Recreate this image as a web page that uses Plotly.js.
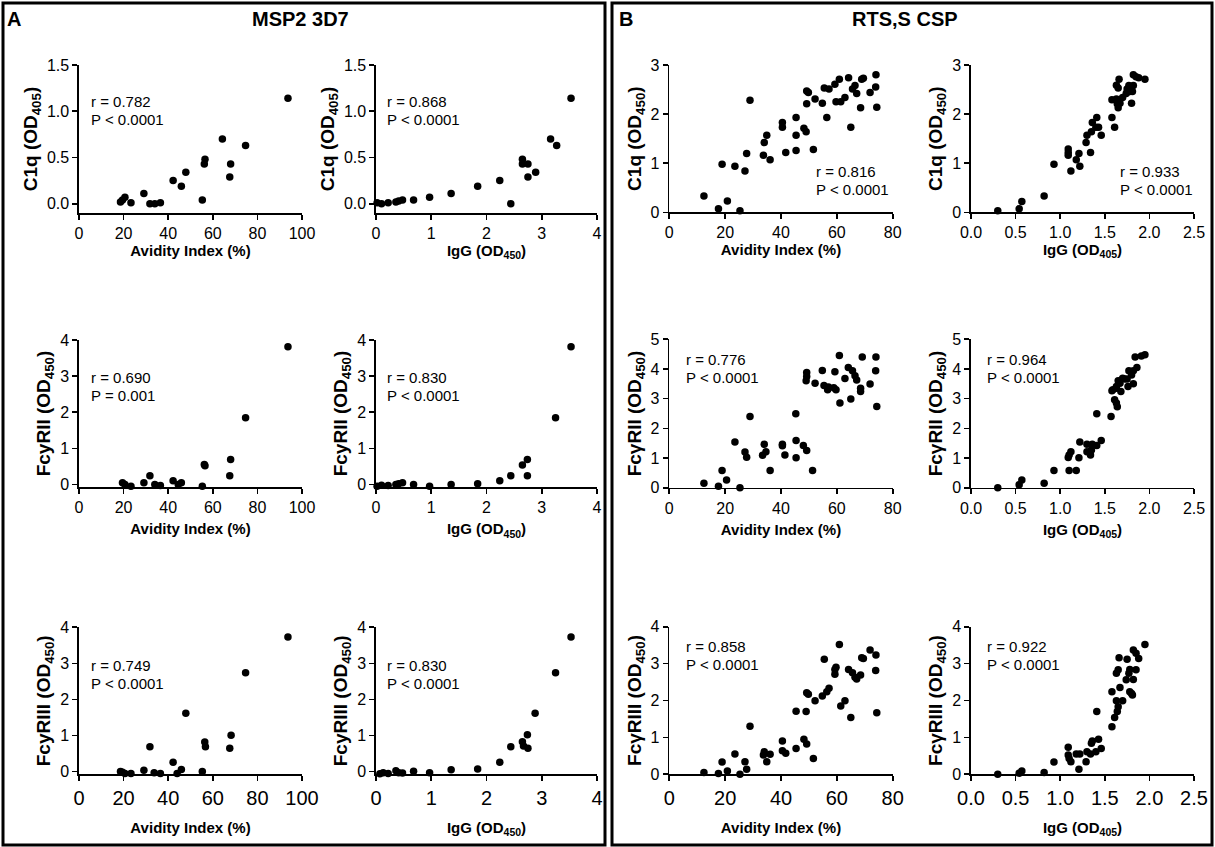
<!DOCTYPE html>
<html>
<head>
<meta charset="utf-8">
<script src="https://cdn.plot.ly/plotly-3.0.1.min.js"></script>
<style>html,body{margin:0;padding:0;background:#fff;}#chart{width:1215px;height:847px;}</style>
</head>
<body>
<div id="chart"></div>
<script>
// ---------------- DATA ----------------
// Panel A: MSP2 3D7
const msp2C1qAvidityX = [93.7,64.3,74.7,56.5,56.2,68.0,67.6,47.9,42.2,45.9,55.3,29.1,20.6,19.5,18.6,23.3,31.8,34.0,36.5];
const msp2C1qAvidityY = [1.14,0.70,0.63,0.48,0.43,0.43,0.29,0.34,0.25,0.19,0.04,0.11,0.07,0.04,0.02,0.01,0.00,0.00,0.01];
const msp2C1qIgGX = [3.53,3.16,3.27,2.65,2.65,2.75,2.75,2.89,2.24,1.84,2.44,1.36,0.97,0.68,0.48,0.41,0.36,0.22,0.10,0.02];
const msp2C1qIgGY = [1.14,0.70,0.63,0.48,0.43,0.43,0.29,0.34,0.25,0.19,0.00,0.11,0.07,0.04,0.04,0.03,0.02,0.01,0.00,0.01];

const msp2RIIAvidityX = [93.7,74.7,68.0,67.6,56.5,56.2,31.8,19.5,20.6,23.3,29.1,34.0,36.5,42.2,44.5,45.9,55.3];
const msp2RIIAvidityY = [3.81,1.85,0.69,0.24,0.52,0.55,0.24,0.05,0.00,-0.05,0.05,0.00,-0.03,0.10,0.00,0.05,-0.05];
const msp2RIIIgGX = [3.53,3.25,2.74,2.65,2.74,2.44,2.24,1.84,1.36,0.97,0.68,0.48,0.41,0.36,0.22,0.10,0.02];
const msp2RIIIgGY = [3.81,1.85,0.69,0.54,0.24,0.24,0.10,0.02,0.00,-0.05,0.00,0.05,0.02,0.00,-0.03,-0.02,-0.05];

const msp2RIIIAvidityX = [93.7,74.7,47.9,68.2,67.6,56.4,56.7,31.8,42.2,45.9,44.0,55.3,29.1,33.7,36.5,23.3,20.6,18.6,19.5];
const msp2RIIIAvidityY = [3.73,2.74,1.62,1.01,0.65,0.82,0.69,0.69,0.26,0.06,-0.05,0.00,0.04,-0.03,-0.05,-0.05,-0.05,0.00,-0.02];
const msp2RIIIIgGX = [3.53,3.25,2.88,2.74,2.65,2.67,2.75,2.44,2.24,1.84,1.36,0.97,0.68,0.48,0.41,0.36,0.22,0.13,0.07];
const msp2RIIIIgGY = [3.73,2.74,1.62,1.02,0.83,0.71,0.65,0.69,0.26,0.07,0.05,-0.03,0.01,-0.04,-0.03,0.02,-0.05,-0.03,-0.06];

// Panel B: RTS,S CSP
const cspC1qAvidityX = [12.4,17.6,18.9,20.8,23.5,25.3,27.1,27.7,28.9,33.7,34.0,34.9,36.1,40.5,40.5,41.7,45.4,45.4,45.4,48.2,49.0,49.2,49.2,49.8,51.6,52.2,54.8,55.5,56.4,57.2,59.3,59.7,60.9,61.4,62.9,64.2,65.0,65.6,66.5,67.1,68.5,68.9,69.5,71.9,73.9,74.0,74.3];
const cspC1qAvidityY = [0.33,0.07,0.98,0.23,0.94,0.03,0.84,1.20,2.28,1.16,1.42,1.57,1.07,1.83,1.73,1.22,1.93,1.57,1.26,1.71,1.64,2.21,2.47,2.44,1.28,2.31,2.22,2.53,1.93,2.51,2.61,2.25,2.71,2.25,2.34,2.74,1.73,2.51,2.58,2.42,2.13,2.71,2.73,2.44,2.55,2.80,2.14];
const cspC1qIgGX = [0.30,0.54,0.57,0.82,0.93,1.09,1.09,1.09,1.12,1.18,1.21,1.22,1.29,1.30,1.34,1.35,1.36,1.40,1.41,1.43,1.46,1.58,1.58,1.61,1.63,1.63,1.64,1.65,1.66,1.65,1.67,1.70,1.74,1.75,1.77,1.78,1.80,1.81,1.82,1.82,1.85,1.88,1.95];
const cspC1qIgGY = [0.03,0.07,0.22,0.33,0.98,1.29,1.22,1.16,0.84,1.07,1.20,0.94,1.42,1.57,1.22,1.64,1.83,1.73,1.93,1.73,1.57,1.93,2.29,1.73,2.31,2.59,2.21,2.53,2.71,2.13,2.22,2.34,2.42,2.51,2.58,2.46,2.22,2.46,2.58,2.80,2.76,2.74,2.71];

const cspRIIAvidityX = [12.4,17.6,25.3,60.9,69.1,74.0,73.9,74.3,71.9,68.5,68.5,67.1,66.5,65.6,64.1,62.9,65.0,61.1,59.3,59.7,58.9,57.0,56.7,55.4,54.8,52.2,49.2,49.2,49.0,51.3,49.2,48.0,45.4,45.3,45.4,41.4,40.5,40.5,36.1,34.6,34.0,33.4,28.9,27.7,27.1,23.5,18.9,20.5];
const cspRIIAvidityY = [0.15,0.05,0.00,4.45,4.40,4.40,3.94,2.74,3.49,3.35,3.24,3.63,3.77,3.94,4.05,3.68,2.99,2.85,3.91,3.30,3.37,3.39,3.30,3.44,3.95,3.52,3.88,3.75,3.60,0.58,1.25,1.42,1.59,2.49,1.01,1.10,1.46,1.41,0.58,1.21,1.46,1.09,2.40,1.03,1.20,1.54,0.58,0.26];
const cspRIIIgGX = [0.30,0.54,0.82,1.95,1.91,1.84,1.86,1.82,1.80,1.77,1.75,1.82,1.76,1.72,1.70,1.67,1.65,1.63,1.68,1.63,1.59,1.58,1.61,1.63,1.64,1.57,1.41,1.46,1.41,1.36,1.30,1.22,1.35,1.30,1.34,1.21,1.12,1.10,1.09,1.18,1.10,0.93,0.57];
const cspRIIIgGY = [0.00,0.10,0.15,4.48,4.44,4.40,4.05,3.94,3.80,3.94,3.66,3.50,3.41,3.66,3.69,3.52,3.60,3.41,3.24,3.35,3.30,3.27,2.96,2.85,2.73,2.40,2.49,1.59,1.42,1.46,1.46,1.54,1.27,1.21,1.10,1.01,1.21,1.10,1.02,0.58,0.58,0.58,0.26];

const cspRIIIAvidityX = [12.4,17.6,18.9,20.8,23.5,25.3,27.1,27.7,28.9,33.7,34.0,34.9,36.1,40.5,40.5,41.7,45.4,45.4,48.2,49.2,49.0,49.2,49.8,51.6,52.2,54.8,55.5,56.4,57.2,59.3,59.3,59.7,60.9,61.4,62.9,64.2,65.0,65.6,66.5,67.1,68.5,68.9,69.5,71.9,73.9,74.0,74.3];
const cspRIIIAvidityY = [0.05,0.02,0.33,0.09,0.55,0.00,0.34,0.14,1.30,0.52,0.61,0.34,0.54,0.90,0.64,0.57,1.71,0.70,0.95,0.82,1.70,2.21,2.17,0.43,1.99,2.12,3.12,2.24,2.33,2.71,2.84,2.90,3.52,1.85,1.99,2.84,1.54,2.75,2.63,2.58,2.69,3.16,3.14,3.37,2.81,3.23,1.67];
const cspRIIIIgGX = [0.30,0.54,0.57,0.82,0.93,1.09,1.09,1.10,1.12,1.18,1.21,1.22,1.29,1.30,1.34,1.35,1.36,1.40,1.41,1.43,1.46,1.58,1.58,1.61,1.63,1.63,1.64,1.65,1.66,1.65,1.67,1.70,1.74,1.75,1.77,1.78,1.80,1.81,1.82,1.82,1.85,1.88,1.85,1.95,1.78];
const cspRIIIIgGY = [0.00,0.03,0.09,0.05,0.33,0.73,0.52,0.43,0.34,0.55,0.14,0.55,0.34,0.61,0.55,0.84,0.90,0.61,1.70,0.95,0.70,1.29,2.24,1.54,1.99,2.74,1.70,2.83,3.16,1.83,2.35,1.99,2.56,3.12,2.74,2.84,2.19,2.15,2.57,3.37,3.28,3.14,2.83,3.52,2.24];

// Correlation statistics text
const statR = ['0.782','0.868','0.816','0.933','0.690','0.830','0.776','0.964','0.749','0.830','0.858','0.922'];
const statP = ['P &lt; 0.0001','P &lt; 0.0001','P &lt; 0.0001','P &lt; 0.0001','P = 0.001','P &lt; 0.0001','P &lt; 0.0001','P &lt; 0.0001','P &lt; 0.0001','P &lt; 0.0001','P &lt; 0.0001','P &lt; 0.0001'];

// Axis labels
const xLabels = ['Avidity Index (%)','IgG (OD<sub>450</sub>)','Avidity Index (%)','IgG (OD<sub>405</sub>)'];
const yLabels = [
  ['C1q (OD<sub>405</sub>)','C1q (OD<sub>405</sub>)','C1q (OD<sub>450</sub>)','C1q (OD<sub>450</sub>)'],
  ['FcyRII (OD<sub>450</sub>)','FcyRII (OD<sub>450</sub>)','FcγRII (OD<sub>450</sub>)','FcγRII (OD<sub>450</sub>)'],
  ['FcyRIII (OD<sub>450</sub>)','FcyRIII (OD<sub>450</sub>)','FcγRIII (OD<sub>450</sub>)','FcγRIII (OD<sub>450</sub>)']
];
const panelTitles = ['MSP2 3D7','RTS,S CSP'];
const panelLetters = ['A','B'];

// ---------------- LAYOUT ----------------
const W = 1215, H = 847;
const FONT = 'Liberation Sans, Arial, sans-serif';
const series = [
  [[msp2C1qAvidityX,msp2C1qAvidityY],[msp2C1qIgGX,msp2C1qIgGY],[cspC1qAvidityX,cspC1qAvidityY],[cspC1qIgGX,cspC1qIgGY]],
  [[msp2RIIAvidityX,msp2RIIAvidityY],[msp2RIIIgGX,msp2RIIIgGY],[cspRIIAvidityX,cspRIIAvidityY],[cspRIIIgGX,cspRIIIgGY]],
  [[msp2RIIIAvidityX,msp2RIIIAvidityY],[msp2RIIIIgGX,msp2RIIIIgGY],[cspRIIIAvidityX,cspRIIIAvidityY],[cspRIIIIgGX,cspRIIIIgGY]]
];
const colPx = [[79,302],[376,597],[669.3,892.7],[971,1194]];
const rowPx = [[[65,213],[65,213],[65,212.3],[65,212.3]],
               [[340,487],[340,487],[339.3,487.7],[339.3,487.7]],
               [[627.3,774.3],[627.3,774.3],[626.7,774.3],[626.7,774.3]]];
const xRanges = [[0,100],[0,4],[0,80],[0,2.5]];
const xDtick = [20,1,20,0.5];
const xFmt = ['','','','.1f'];
const yRanges = [[[-0.1,1.5],[-0.1,1.5],[0,3],[0,3]],
                 [[-0.07,4],[-0.07,4],[0,5],[0,5]],
                 [[-0.075,4],[-0.075,4],[0,4],[0,4]]];
const yDtick = [[0.5,0.5,1,1],[1,1,1,1],[1,1,1,1]];
const yFmt = [['.1f','.1f','',''],['','','',''],['','','','']];
const xTickSize = [16, 16, 20];
const xTitleStandoff = [0, 9, 14];
// stat text: [left px, r-line centre px]
const statPx = [
  [[89,101.7],[385,101.7],[814,171.7],[1118,171.7]],
  [[89,377],[385,377],[684,359],[985,359.3]],
  [[89,665],[385,665],[684,646],[985,646.7]]
];
const STAT_GAP = 18;

const traces = [];
const layout = {
  width: W, height: H,
  margin: {l:0,r:0,t:0,b:0},
  paper_bgcolor: '#fff', plot_bgcolor: '#fff',
  showlegend: false,
  font: {family: FONT, color: '#000', size: 16},
  annotations: [], shapes: []
};

let k = 0;
for (let r = 0; r < 3; r++) {
  for (let c = 0; c < 4; c++) {
    k++;
    const xa = 'xaxis' + (k === 1 ? '' : k), ya = 'yaxis' + (k === 1 ? '' : k);
    const xr = 'x' + (k === 1 ? '' : k), yr = 'y' + (k === 1 ? '' : k);
    traces.push({
      type: 'scatter', mode: 'markers',
      x: series[r][c][0], y: series[r][c][1],
      xaxis: xr, yaxis: yr,
      marker: {color: '#000', size: 7.5},
      cliponaxis: false, hoverinfo: 'x+y'
    });
    const [x0, x1] = colPx[c];
    const [y0, y1] = rowPx[r][c];
    layout[xa] = {
      domain: [x0 / W, x1 / W], anchor: yr,
      range: xRanges[c], dtick: xDtick[c], tick0: 0, tickformat: xFmt[c],
      showgrid: false, zeroline: false, showline: true, linewidth: 1.6, linecolor: '#000',
      ticks: 'outside', ticklen: 5, tickwidth: 1.6, tickcolor: '#000',
      tickfont: {size: xTickSize[r], family: FONT},
      title: {text: xLabels[c], font: {size: 15, family: FONT, weight: 'bold'}, standoff: xTitleStandoff[r]},
      automargin: false, fixedrange: true
    };
    layout[ya] = {
      domain: [1 - y1 / H, 1 - y0 / H], anchor: xr,
      range: yRanges[r][c], dtick: yDtick[r][c], tick0: 0, tickformat: yFmt[r][c],
      showgrid: false, zeroline: false, showline: true, linewidth: 1.6, linecolor: '#000',
      ticks: 'outside', ticklen: 5, tickwidth: 1.6, tickcolor: '#000',
      tickfont: {size: 16, family: FONT},
      title: {text: yLabels[r][c], font: {size: 19, family: FONT, weight: 'bold'}, standoff: 4},
      automargin: false, fixedrange: true
    };
    const [sx, sy] = statPx[r][c];
    layout.annotations.push({
      xref: 'paper', yref: 'paper', x: sx / W, y: 1 - sy / H,
      xanchor: 'left', yanchor: 'middle', align: 'left', showarrow: false,
      text: 'r = ' + statR[k - 1],
      font: {size: 15, family: FONT, color: '#000'}
    });
    layout.annotations.push({
      xref: 'paper', yref: 'paper', x: sx / W, y: 1 - (sy + STAT_GAP) / H,
      xanchor: 'left', yanchor: 'middle', align: 'left', showarrow: false,
      text: statP[k - 1],
      font: {size: 15, family: FONT, color: '#000'}
    });
  }
}

// Panel frames
const frames = [[3, 605], [612, 1212]];
frames.forEach(([a, b]) => {
  layout.shapes.push({type: 'rect', xref: 'paper', yref: 'paper',
    x0: a / W, x1: b / W, y0: 1 - 845 / H, y1: 1 - 3 / H,
    line: {color: '#000', width: 3}, fillcolor: 'rgba(0,0,0,0)'});
});
// Panel letters and titles
[[14, 300], [626, 905]].forEach(([lx, tx], i) => {
  layout.annotations.push({xref: 'paper', yref: 'paper', x: lx / W, y: 1 - 19 / H,
    xanchor: 'center', yanchor: 'middle', showarrow: false, text: panelLetters[i],
    font: {size: 20, family: FONT, weight: 'bold', color: '#000'}});
  layout.annotations.push({xref: 'paper', yref: 'paper', x: tx / W, y: 1 - 19 / H,
    xanchor: 'center', yanchor: 'middle', showarrow: false, text: panelTitles[i],
    font: {size: 20, family: FONT, weight: 'bold', color: '#000'}});
});

Plotly.newPlot('chart', traces, layout, {displayModeBar: false, staticPlot: true});
</script>
</body>
</html>
